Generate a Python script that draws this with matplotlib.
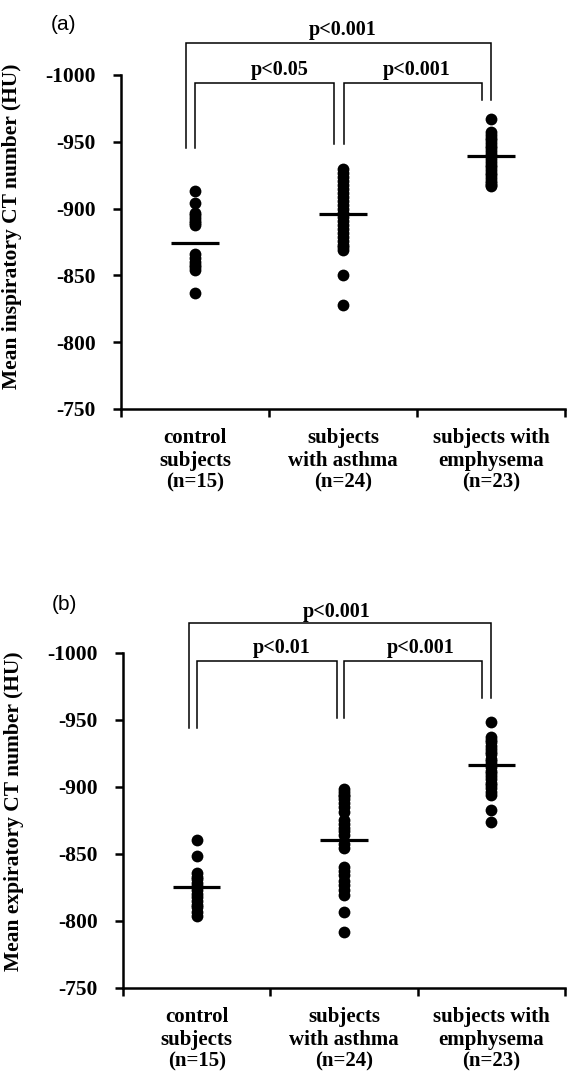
import matplotlib
matplotlib.use("Agg")
import matplotlib.pyplot as plt

# Data (HU)
categories = ["control\nsubjects\n(n=15)", "subjects\nwith asthma\n(n=24)", "subjects with\nemphysema\n(n=23)"]

control_insp = [-913, -904, -897, -895, -893, -891, -889, -888,
                -866, -863, -860, -858, -856, -854, -837]
asthma_insp = [-930, -927, -924, -921, -918, -915, -912, -909, -906, -903, -900, -897,
               -894, -891, -888, -885, -882, -879, -876, -873, -871, -869, -850, -828]
emph_insp = [-967, -957, -955, -953, -951, -949, -947, -945, -943, -941, -939, -937,
             -935, -933, -931, -929, -927, -925, -923, -921, -919, -918, -917]
means_insp = [-874, -896, -939]

control_exp = [-860, -848, -836, -833, -831, -828, -826, -823, -820, -818, -815,
               -812, -810, -807, -804]
asthma_exp = [-898, -896, -894, -893, -891, -888, -885, -881, -875, -872, -869, -867,
              -864, -857, -854, -840, -837, -834, -830, -827, -823, -819, -807, -792]
emph_exp = [-948, -937, -935, -933, -930, -928, -926, -924, -921, -919, -917, -915,
            -912, -910, -908, -906, -903, -901, -899, -896, -894, -883, -874]
means_exp = [-825, -860, -916]

p_labels_insp = ["p<0.05", "p<0.001", "p<0.001"]
p_labels_exp = ["p<0.01", "p<0.001", "p<0.001"]

SERIF = "Liberation Serif"


def draw_bracket(ax, x0, x1, ytop, yleft, yright):
    ax.plot([x0, x0, x1, x1], [yleft, ytop, ytop, yright], color="black",
            lw=1.1, clip_on=False, solid_joinstyle="miter")


def draw_panel(ax, groups, means, ylabel, label_y, brackets, p_labels, p_pos):
    for i, vals in enumerate(groups):
        ax.plot([i] * len(vals), vals, "o", color="black", markersize=8.5,
                markeredgewidth=0, clip_on=False)
        ax.plot([i - 0.16, i + 0.16], [means[i], means[i]], color="black", lw=2.3,
                solid_capstyle="butt")

    ax.set_xlim(-0.5, 2.5)
    ax.set_ylim(-750, -1000)
    ax.spines["top"].set_visible(False)
    ax.spines["right"].set_visible(False)
    ax.spines["left"].set_linewidth(1.8)
    ax.spines["bottom"].set_linewidth(1.8)

    ax.set_yticks([-1000, -950, -900, -850, -800, -750])
    ax.set_yticklabels(["-1000", "-950", "-900", "-850", "-800", "-750"],
                       fontfamily=SERIF, fontweight="bold", fontsize=15.5)
    ax.tick_params(axis="y", direction="out", length=6, width=1.8, pad=12)

    ax.set_xticks([-0.5, 0.5, 1.5, 2.5])
    ax.set_xticklabels([])
    ax.tick_params(axis="x", which="major", direction="out", length=6, width=1.8)
    ax.set_xticks([0, 1, 2], minor=True)
    ax.set_xticklabels(categories, minor=True, fontfamily=SERIF, fontweight="bold",
                       fontsize=15, linespacing=1.15, va="top")
    ax.tick_params(axis="x", which="minor", length=0, pad=14)

    ax.set_ylabel(ylabel, fontfamily=SERIF, fontweight="bold", fontsize=15.5)
    ax.yaxis.set_label_coords(label_y[0], label_y[1])

    # significance brackets
    for b in brackets:
        draw_bracket(ax, *b)
    for (x, y), txt in zip(p_pos, p_labels):
        ax.text(x, y, txt, ha="center", va="center", fontfamily=SERIF,
                fontweight="bold", fontsize=14.5, clip_on=False)


fig = plt.figure(figsize=(5.7, 10.76), dpi=100)

ax1 = fig.add_axes([121 / 570, 1 - 409 / 1076, 444 / 570, 334 / 1076])
draw_panel(ax1, [control_insp, asthma_insp, emph_insp], means_insp,
           "Mean inspiratory CT number (HU)", (-0.223, 0.548),
           [(0.0, 0.94, -994, -945, -948), (1.01, 1.94, -994, -948, -981),
            (-0.06, 2.0, -1024, -945, -981)],
           p_labels_insp, [(0.57, -1004), (1.5, -1004), (1.0, -1034)])

ax2 = fig.add_axes([123 / 570, 1 - 988 / 1076, 442 / 570, 335.5 / 1076])
draw_panel(ax2, [control_exp, asthma_exp, emph_exp], means_exp,
           "Mean expiratory CT number (HU)", (-0.224, 0.528),
           [(0.0, 0.95, -994, -944, -951), (1.0, 1.94, -994, -951, -966),
            (-0.05, 2.0, -1022, -944, -966)],
           p_labels_exp, [(0.58, -1003), (1.52, -1003), (0.95, -1030)])

fig.text(64 / 570, 1 - 25 / 1076, "(a)", ha="center", va="center",
         fontfamily="Liberation Sans", fontsize=15)
fig.text(64 / 570, 1 - 604 / 1076, "(b)", ha="center", va="center",
         fontfamily="Liberation Sans", fontsize=15)

fig.savefig("out.png", dpi=100, facecolor="white")
